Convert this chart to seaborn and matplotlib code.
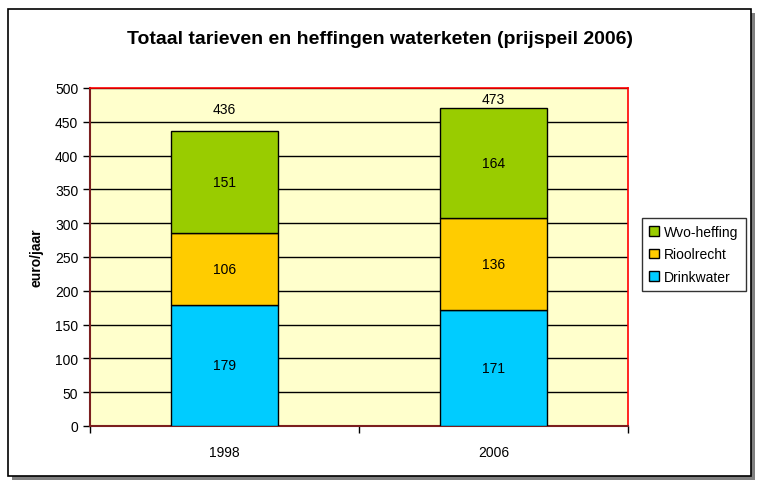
import pandas as pd
import numpy as np
import seaborn as sns
import matplotlib.pyplot as plt
from matplotlib.patches import Rectangle, Patch

years = ['1998', '2006']
drinkwater = [179, 171]
rioolrecht = [106, 136]
wvo_heffing = [151, 164]
totals = [436, 473]  # totals as labelled in the source (rounded separately)

df = pd.DataFrame({'jaar': years, 'Drinkwater': drinkwater,
                   'Rioolrecht': rioolrecht, 'Wvo-heffing': wvo_heffing})

colors = {'Drinkwater': '#00CCFF', 'Rioolrecht': '#FFCC00', 'Wvo-heffing': '#99CC00'}

sns.set_style('white')
plt.rcParams['font.family'] = ['Liberation Sans', 'DejaVu Sans']
plt.rcParams['text.color'] = 'black'
plt.rcParams['xtick.color'] = 'black'
plt.rcParams['ytick.color'] = 'black'
plt.rcParams['axes.labelcolor'] = 'black'

fig = plt.figure(figsize=(7.57, 4.81), dpi=100)

# outer chart frame with shadow
fig.patches.append(Rectangle((12 / 757, 0), 743 / 757, 467 / 481,
                             transform=fig.transFigure, facecolor='#808080',
                             edgecolor='none', zorder=-2))
fig.patches.append(Rectangle((8 / 757, 4 / 481), 743 / 757, 467 / 481,
                             transform=fig.transFigure, facecolor='white',
                             edgecolor='black', linewidth=1.2, zorder=-1))

ax = fig.add_axes([90 / 757, 1 - 427 / 481, 538 / 757, 338 / 481])
ax.set_facecolor('#FFFFCC')

# stacked bars
bottom = np.zeros(len(df))
for col in ['Drinkwater', 'Rioolrecht', 'Wvo-heffing']:
    sns.barplot(data=df, x='jaar', y=col, color=colors[col], bottom=bottom,
                width=0.4, edgecolor='black', linewidth=1, saturation=1, ax=ax, zorder=3)
    for i, v in enumerate(df[col]):
        ax.text(i, bottom[i] + v / 2, str(v), ha='center', va='center', fontsize=10, zorder=4)
    bottom = bottom + df[col].values

# total labels above the bars (Excel squeezed the 2006 one below the top border)
label_offsets = [16, 6]
for i, t in enumerate(totals):
    ax.annotate(str(t), (i, bottom[i]), xytext=(0, label_offsets[i]), textcoords='offset points',
                ha='center', va='center', fontsize=10, zorder=4)

ax.set_xlim(-0.5, 1.5)
ax.set_ylim(0, 500)
ax.set_yticks(range(0, 501, 50))
ax.yaxis.grid(True, color='black', linewidth=1)
ax.set_axisbelow(True)
ax.tick_params(axis='y', length=5, width=1, color='black', labelsize=10, direction='out', left=True)
ax.tick_params(axis='x', which='major', length=0, labelsize=10, pad=14)
ax.set_xticks([-0.5, 0.5, 1.5], minor=True)
ax.tick_params(axis='x', which='minor', length=5, width=1, color='black', direction='out', bottom=True)

ax.set_xlabel('')
ax.set_ylabel('euro/jaar', fontsize=10, fontweight='bold', labelpad=8)

for s in ['top', 'right']:
    ax.spines[s].set_color('red')
    ax.spines[s].set_linewidth(1.2)
for s in ['left', 'bottom']:
    ax.spines[s].set_color('#7B1F1F')
    ax.spines[s].set_linewidth(1.5)

fig.text(380 / 757, 1 - 40 / 481, 'Totaal tarieven en heffingen waterketen (prijspeil 2006)',
         ha='center', va='center', fontsize=14, fontweight='bold')

handles = [Patch(facecolor=colors[c], edgecolor='black', label=c)
           for c in ['Wvo-heffing', 'Rioolrecht', 'Drinkwater']]
leg = fig.legend(handles=handles, loc='upper left', bbox_to_anchor=(642 / 757, 1 - 219 / 481),
                 fontsize=10, frameon=True, fancybox=False, handlelength=0.7, handleheight=0.7,
                 handletextpad=0.4, borderpad=0.5, labelspacing=0.6, borderaxespad=0)
leg.get_frame().set_edgecolor('black')
leg.get_frame().set_linewidth(1)

plt.savefig('out.png', dpi=100)
